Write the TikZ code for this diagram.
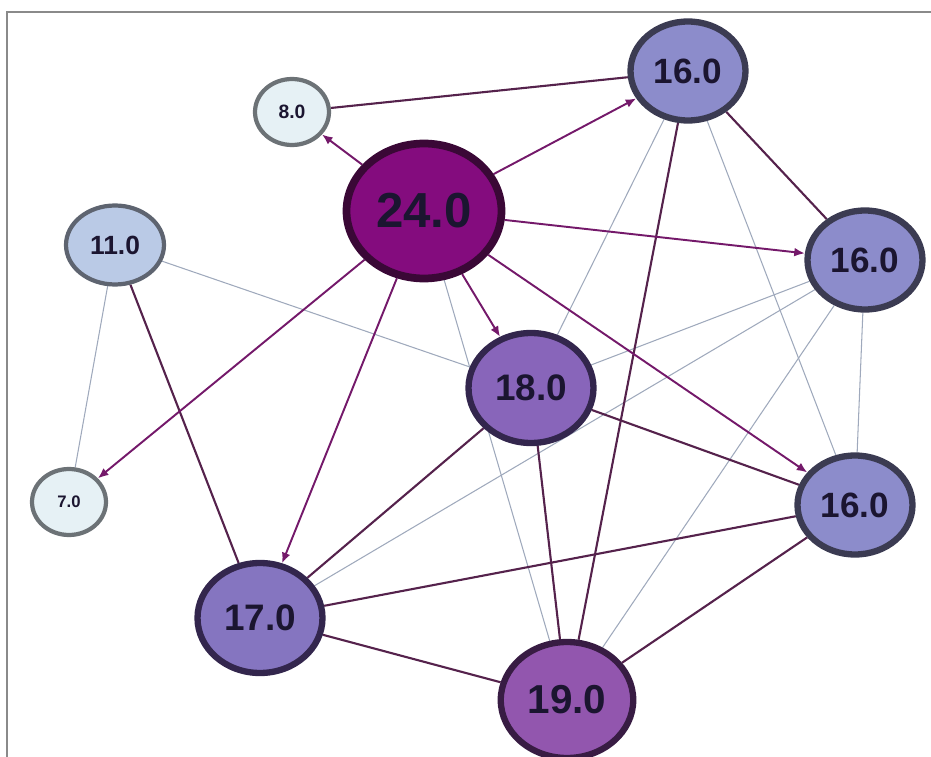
\documentclass[tikz,border=0pt]{standalone}
\usepackage{fontspec}
\setmainfont{Liberation Sans}
\usepackage{tikz}
\usetikzlibrary{arrows.meta,positioning,shapes.geometric,backgrounds}
\definecolor{hubfill}{HTML}{840C7E}
\definecolor{hubline}{HTML}{3A0836}
\definecolor{bluefill}{HTML}{8C8CCB}
\definecolor{blueline}{HTML}{3B3B52}
\definecolor{midfill}{HTML}{8865BA}
\definecolor{midline}{HTML}{33264D}
\definecolor{sevfill}{HTML}{8575C0}
\definecolor{ninefill}{HTML}{9256AE}
\definecolor{nineline}{HTML}{381C43}
\definecolor{elevfill}{HTML}{BACAE6}
\definecolor{elevline}{HTML}{5E6470}
\definecolor{palefill}{HTML}{E6F1F5}
\definecolor{paleline}{HTML}{6C7276}
\definecolor{labeltext}{HTML}{1B1530}
\definecolor{arcdir}{HTML}{74196A}
\definecolor{archeavy}{HTML}{55224C}
\definecolor{arclight}{HTML}{9FA9BC}
\definecolor{framegray}{HTML}{8A8A8A}
\tikzset{
  vnode/.style={ellipse,draw,inner sep=0pt,align=center,text=labeltext},
  arrow/.style={-{Latex[length=6pt,width=5pt]},line width=1.1pt,arcdir},
  heavy/.style={line width=1.2pt,archeavy},
  light/.style={line width=0.6pt,arclight}
}

\newcommand{\fsz}[1]{\fontsize{#1}{#1}\selectfont\bfseries}

\begin{document}
\begin{tikzpicture}[
  x=0.02cm,y=-0.02cm,
  hub/.style={vnode,fill=hubfill,draw=hubline,line width=4.4pt,minimum width=3.1cm,minimum height=2.7cm,font=\fsz{28pt}},
  big/.style={vnode,fill=bluefill,draw=blueline,line width=3.6pt,minimum width=2.3cm,minimum height=1.98cm,font=\fsz{20pt}},
  mid/.style={vnode,fill=midfill,draw=midline,line width=3.6pt,minimum width=2.5cm,minimum height=2.2cm,font=\fsz{21pt}},
  leaf/.style={vnode,fill=palefill,draw=paleline,line width=2.4pt,minimum width=1.48cm,minimum height=1.32cm}
]
  \useasboundingbox (0,0) rectangle (931,757);
  \draw[framegray,line width=1pt] (931,12) -- (7,12) -- (7,757);

  \node[hub] (v24) at (424,211) {24.0};
  \node[big] (v16a) at (688,71) {16.0};
  \node[big] (v16b) at (865,260) {16.0};
  \node[big] (v16c) at (855,505) {16.0};
  \node[mid] (v18) at (531,388) {18.0};
  \node[mid,fill=sevfill,draw=midline] (v17) at (260,618) {17.0};
  \node[mid,fill=ninefill,draw=nineline,minimum width=2.65cm,minimum height=2.32cm,font=\fsz{23pt}] (v19) at (567,700) {19.0};
  \node[leaf,fill=elevfill,draw=elevline,minimum width=1.96cm,minimum height=1.58cm,font=\fsz{15pt}] (v11) at (115,245) {11.0};
  \node[leaf,font=\fsz{11pt}] (v8) at (292,112) {8.0};
  \node[leaf,font=\fsz{9.5pt}] (v7) at (69,502) {7.0};

  \begin{scope}[on background layer]
    % weak links
    \draw[light] (v11) -- (v7);
    \draw[light] (v11) -- (v18);
    \draw[light] (v24) -- (v19);
    \draw[light] (v16a) -- (v18);
    \draw[light] (v16a) -- (v16c);
    \draw[light] (v16b) -- (v18);
    \draw[light] (v16b) -- (v17);
    \draw[light] (v16b) -- (v19);
    \draw[light] (v16b) -- (v16c);

    % strong links
    \draw[heavy] (v8) -- (v16a);
    \draw[heavy] (v16a) -- (v16b);
    \draw[heavy] (v16a) -- (v19);
    \draw[heavy] (v11) -- (v17);
    \draw[heavy] (v18) -- (v16c);
    \draw[heavy] (v18) -- (v17);
    \draw[heavy] (v18) -- (v19);
    \draw[heavy] (v17) -- (v16c);
    \draw[heavy] (v17) -- (v19);
    \draw[heavy] (v16c) -- (v19);

    % out of the hub
    \draw[arrow] (v24) -- (v8);
    \draw[arrow] (v24) -- (v16a);
    \draw[arrow] (v24) -- (v16b);
    \draw[arrow] (v24) -- (v18);
    \draw[arrow] (v24) -- (v16c);
    \draw[arrow] (v24) -- (v17);
    \draw[arrow] (v24) -- (v7);
  \end{scope}
\end{tikzpicture}
\end{document}
